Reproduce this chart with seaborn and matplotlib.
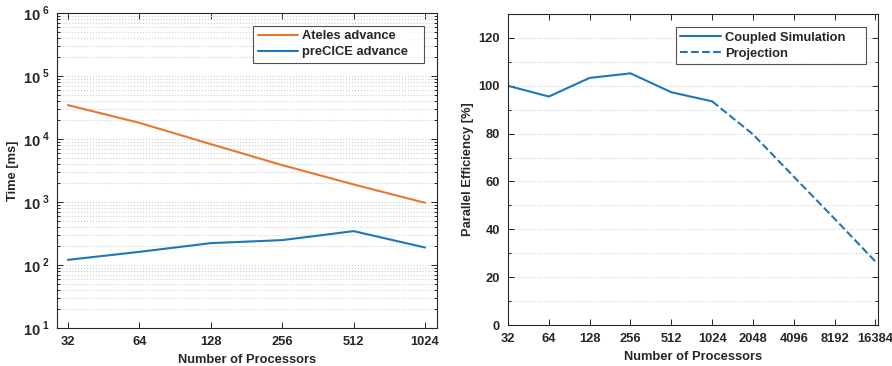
import numpy as np
import pandas as pd
import matplotlib
matplotlib.use("Agg")
import matplotlib.pyplot as plt
import matplotlib.ticker as mticker
import seaborn as sns

sns.set_style("white")
plt.rcParams['font.family'] = ['Liberation Sans', 'DejaVu Sans']
plt.rcParams['font.weight'] = 'bold'
plt.rcParams['axes.labelweight'] = 'bold'
plt.rcParams['mathtext.fontset'] = 'custom'
plt.rcParams['mathtext.bf'] = 'Liberation Sans:bold'
plt.rcParams['mathtext.rm'] = 'Liberation Sans:bold'

# === data ===
procs = [32, 64, 128, 256, 512, 1024]
ateles_ms = [34800, 18200, 8350, 3870, 1910, 975]
precice_ms = [121, 162, 223, 249, 346, 190]

eff_procs = [32, 64, 128, 256, 512, 1024]
efficiency = [100.0, 95.5, 103.3, 105.2, 97.3, 93.5]
proj_procs = [1024, 2048, 4096, 8192, 16384]
projection = [93.5, 79.7, 62.0, 44.4, 26.5]

x_ticks_left = [32, 64, 128, 256, 512, 1024]
x_ticks_right = [32, 64, 128, 256, 512, 1024, 2048, 4096, 8192, 16384]

orange = '#E8772E'
blue = '#1F77B8'
grid_kw = dict(color='#cfcfcf', linestyle=':', linewidth=0.8)
fs = 9.3


def pow10(v, pos):
    return r'$\mathbf{10}^{\;\mathbf{%d}}$' % int(round(np.log10(v)))


def style_legend(ax, box):
    leg = ax.legend(loc='upper left', bbox_to_anchor=box, mode='expand',
                    borderaxespad=0, fontsize=fs, frameon=True, fancybox=False,
                    edgecolor='#262626', handlelength=3.1, handletextpad=0.35,
                    borderpad=0.35, labelspacing=0.3)
    leg.get_frame().set_linewidth(0.8)
    return leg


fig = plt.figure(figsize=(8.92, 3.66), dpi=100)
ax1 = fig.add_axes([0.0639, 0.1038, 0.426, 0.8599])
ax2 = fig.add_axes([0.5695, 0.112, 0.4148, 0.8497])

# === left: timings ===
df_t = pd.DataFrame({'procs': procs + procs,
                     'time': ateles_ms + precice_ms,
                     'series': ['Ateles advance'] * len(procs) + ['preCICE advance'] * len(procs)})
sns.lineplot(data=df_t, x='procs', y='time', hue='series',
             palette=[orange, blue], linewidth=1.5, ax=ax1)
ax1.set_xscale('log', base=2)
ax1.set_yscale('log')
ax1.set_xlim(28.8, 1150)
ax1.set_ylim(10, 1e6)
ax1.set_xticks(x_ticks_left)
ax1.xaxis.set_major_formatter(mticker.FixedFormatter([str(v) for v in x_ticks_left]))
ax1.xaxis.set_minor_locator(mticker.NullLocator())
ax1.yaxis.set_major_locator(mticker.LogLocator(base=10, numticks=10))
ax1.yaxis.set_minor_locator(mticker.LogLocator(base=10, subs=np.arange(2, 10), numticks=20))
ax1.yaxis.set_major_formatter(mticker.FuncFormatter(pow10))
ax1.grid(True, which='both', axis='y', **grid_kw)
ax1.set_xlabel('Number of Processors', fontsize=fs, labelpad=4)
ax1.set_ylabel('Time [ms]', fontsize=fs, labelpad=3)
style_legend(ax1, (0.516, 0.848, 0.45, 0.112))

# === right: efficiency ===
df_e = pd.DataFrame({'procs': eff_procs, 'eff': efficiency})
df_p = pd.DataFrame({'procs': proj_procs, 'eff': projection})
sns.lineplot(data=df_e, x='procs', y='eff', color=blue, linewidth=1.5,
             label='Coupled Simulation', ax=ax2)
sns.lineplot(data=df_p, x='procs', y='eff', color=blue, linewidth=1.5,
             linestyle='--', dashes=(3.5, 2.2), label='Projection', ax=ax2)
ax2.set_xscale('log', base=2)
ax2.set_xlim(32, 17100)
ax2.set_ylim(0, 130)
ax2.set_xticks(x_ticks_right)
ax2.xaxis.set_major_formatter(mticker.FixedFormatter([str(v) for v in x_ticks_right]))
ax2.xaxis.set_minor_locator(mticker.NullLocator())
ax2.set_yticks(np.arange(0, 121, 20))
ax2.yaxis.set_minor_locator(mticker.MultipleLocator(10))
ax2.grid(True, which='both', axis='y', **grid_kw)
ax2.set_xlabel('Number of Processors', fontsize=fs, labelpad=4)
ax2.set_ylabel('Parallel Efficiency [%]', fontsize=fs, labelpad=3)
style_legend(ax2, (0.454, 0.846, 0.5135, 0.112))

for ax in (ax1, ax2):
    for s in ax.spines.values():
        s.set_visible(True)
        s.set_color('#262626')
        s.set_linewidth(0.8)
    ax.tick_params(which='both', direction='in', top=True, right=True,
                   bottom=True, left=True, labelsize=fs, color='#262626', width=0.7)
    ax.tick_params(which='major', length=4)
    ax.tick_params(which='minor', length=2)
    ax.tick_params(axis='x', pad=6)
    ax.tick_params(axis='y', pad=6)
    ax.set_axisbelow(True)

ax1.tick_params(axis='y', which='major', labelsize=10.5, pad=5)

fig.savefig('out.png', dpi=100)
